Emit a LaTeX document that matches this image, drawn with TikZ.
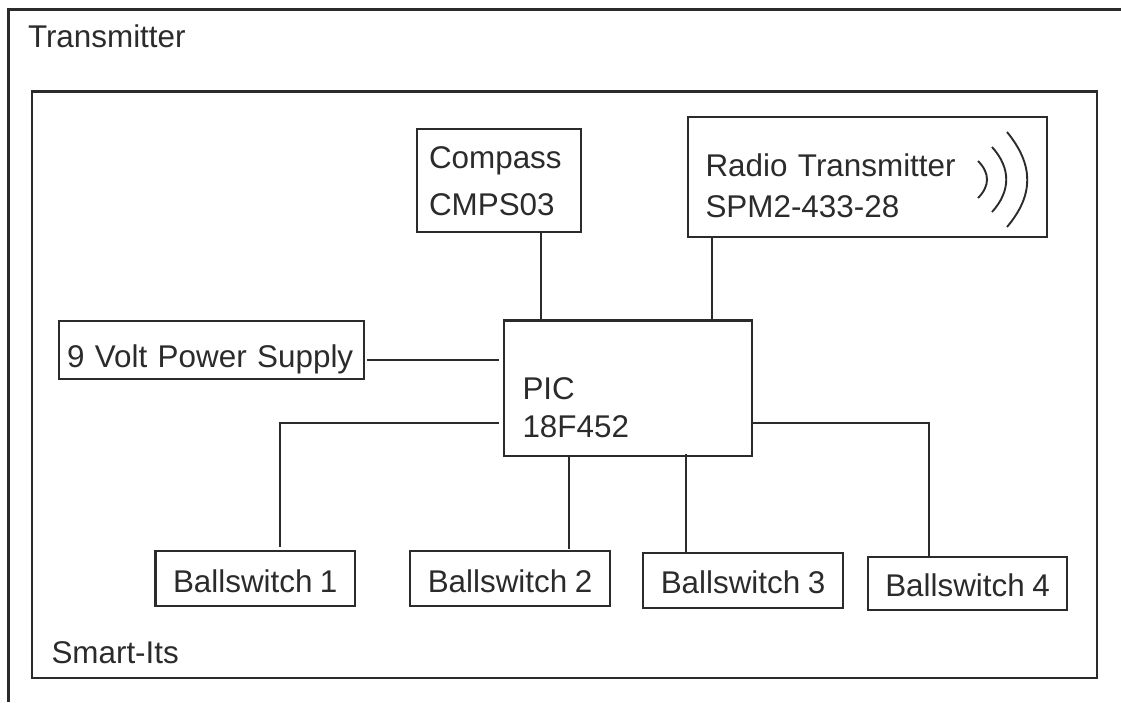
\documentclass[tikz,border=0pt]{standalone}
\usepackage{fontspec}
\setmainfont[WordSpace=0.85]{Liberation Sans}
\usepackage{tikz}
\usetikzlibrary{positioning}
\definecolor{inkdark}{HTML}{2B2B2B}
\tikzstyle{block} = [rectangle, draw=inkdark, line width=2.5pt, inner ysep=0pt, outer sep=0pt, align=left, text=inkdark, font=\fontsize{31.4}{37}\selectfont]
\tikzstyle{wire} = [draw=inkdark, line width=2.5pt]
\tikzstyle{caption} = [inner sep=0pt, outer sep=0pt, text depth=0pt, text=inkdark, font=\fontsize{31.4}{37}\selectfont]
\tikzstyle{wave} = [draw=inkdark, line width=1.9pt]

\begin{document}
\begin{tikzpicture}[x=1pt, y=1pt]
  \useasboundingbox (0,0) rectangle (1121,-702);

  % Khung ngoai
  \draw[wire] (8.5,-702) -- (8.5,-9.5) -- (1121,-9.5);
  \node[caption, anchor=base west] (transmitter) at (28,-47) {Transmitter};

  % Khung Smart-Its
  \node[block, minimum width=1065pt, minimum height=586.5pt, anchor=north west] (smart) at (32,-91.5) {};
  \node[caption, above right=15pt and 19.5pt of smart.south west] (smartlabel) {Smart-Its};

  % Bo xu ly
  \node[block, text width=211pt, inner xsep=18.5pt, text height=78.5pt, text depth=57pt, anchor=north west] (pic) at (504,-320.5) {PIC\\[1pt]18F452};

  % Hang tren
  \node[block, text width=140pt, inner xsep=12pt, text height=39pt, text depth=64pt, above right=88.5pt and -87pt of pic.north west] (compass) {Compass\\[10pt]CMPS03};
  \node[block, text width=324pt, inner xsep=17.5pt, text height=59pt, text depth=61pt, above right=83.5pt and 184pt of pic.north west] (radio) {Radio Transmitter\\[4pt]SPM2-433-28};
  \node[block, text width=289pt, inner xsep=8pt, text height=46pt, text depth=12pt, below left=0.5pt and 140pt of pic.north west] (power) {9 Volt Power Supply};

  % Hang duoi
  \node[block, minimum width=199.5pt, inner xsep=0pt, text height=41pt, text depth=14pt, below right=95pt and -348.5pt of pic.south west] (ball1) {Ballswitch 1};
  \node[block, minimum width=200pt, inner xsep=0pt, text height=41pt, text depth=14pt, below right=95pt and -94pt of pic.south west] (ball2) {Ballswitch 2};
  \node[block, minimum width=200pt, inner xsep=0pt, text height=40pt, text depth=15pt, below right=97pt and 139pt of pic.south west] (ball3) {Ballswitch 3};
  \node[block, minimum width=199pt, inner xsep=0pt, text height=39pt, text depth=14pt, below right=101pt and 364pt of pic.south west] (ball4) {Ballswitch 4};

  % Song vo tuyen
  \draw[wave] (978,-161) .. controls (990,-173) and (990,-186) .. (978,-198);
  \draw[wave] (992,-147) .. controls (1011,-168) and (1011,-191) .. (992,-212);
  \draw[wave] (1007,-132) .. controls (1034,-165) and (1034,-195) .. (1007,-227);

  % Day noi
  \draw[wire] ([xshift=42pt]compass.south) -- ([xshift=42pt]compass.south |- pic.north);
  \draw[wire] ([xshift=24pt]radio.south west) -- ([xshift=24pt]radio.south west |- pic.north);
  \draw[wire] ([shift={(3pt,-10pt)}]power.east) -- ([shift={(-5pt,-39.5pt)}]pic.north west);
  \draw[wire] ([shift={(-5pt,33pt)}]pic.south west) -| ([shift={(24.75pt,4pt)}]ball1.north);
  \draw[wire] ([xshift=65pt]pic.south west) -- ([shift={(59pt,2pt)}]ball2.north);
  \draw[wire] ([shift={(182pt,2pt)}]pic.south west) -- ([xshift=-57pt]ball3.north);
  \draw[wire] ([yshift=33pt]pic.south east) -| ([xshift=-38.5pt]ball4.north);
\end{tikzpicture}
\end{document}
